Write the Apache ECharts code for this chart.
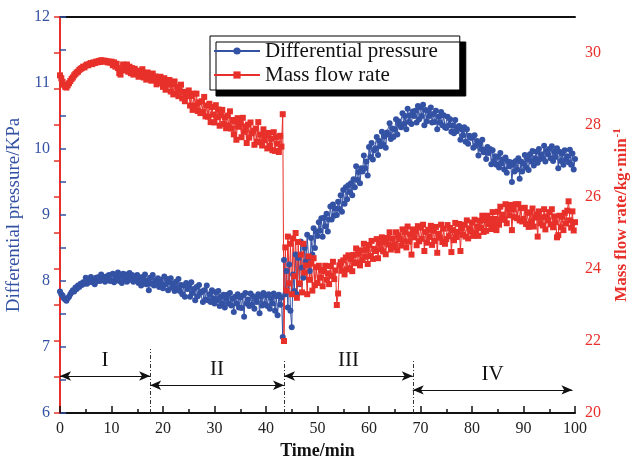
<!DOCTYPE html>
<html>
<head>
<meta charset="utf-8">
<script src="https://cdn.jsdelivr.net/npm/echarts@6/dist/echarts.min.js"></script>
<style>html,body{margin:0;padding:0;background:#fff;overflow:hidden}#c{width:633px;height:458px}</style>
</head>
<body>
<div id="c"></div>
<script>
// time axis: readings every 0.25 min from 0 to 100 min
const timeStep = 0.25;

// Differential pressure (KPa), left axis
const diffPressure = [
  7.84, 7.80, 7.78, 7.74, 7.72, 7.70, 7.74, 7.76, 7.80, 7.83, 7.86, 7.84, 7.90, 7.88, 7.93, 7.91, 7.96, 7.94, 7.98, 7.96,
  8.05, 7.96, 8.02, 7.99, 8.06, 7.98, 8.02, 7.95, 8.05, 8.00, 8.06, 8.00, 8.10, 8.02, 8.06, 7.99, 8.07, 8.03, 8.09, 8.00,
  8.01, 8.11, 7.98, 8.07, 8.03, 8.13, 8.00, 8.08, 7.97, 8.11, 8.03, 8.10, 7.99, 8.06, 8.12, 8.02, 8.09, 7.99, 8.06, 8.04,
  8.09, 7.97, 8.05, 7.93, 8.06, 8.00, 8.10, 7.95, 8.01, 7.86, 8.05, 7.96, 8.09, 7.93, 8.01, 7.95, 8.04, 7.91, 8.02, 7.95,
  7.89, 8.07, 7.95, 8.03, 7.86, 7.98, 8.04, 7.90, 7.96, 7.85, 7.99, 7.89, 8.03, 7.85, 7.94, 7.80, 7.93, 7.76, 7.97, 7.88,
  7.92, 7.76, 7.98, 7.82, 7.88, 7.71, 7.91, 7.77, 7.94, 7.82, 7.84, 7.68, 7.86, 7.72, 7.93, 7.71, 7.80, 7.68, 7.86, 7.74,
  7.66, 7.83, 7.71, 7.85, 7.62, 7.76, 7.66, 7.79, 7.60, 7.73, 7.79, 7.66, 7.82, 7.63, 7.73, 7.53, 7.76, 7.66, 7.80, 7.60,
  7.75, 7.59, 7.78, 7.46, 7.82, 7.66, 7.72, 7.62, 7.81, 7.64, 7.77, 7.58, 7.74, 7.68, 7.80, 7.51, 7.76, 7.63, 7.82, 7.65,
  7.78, 7.62, 7.80, 7.58, 7.74, 7.66, 7.81, 7.55, 7.77, 7.48, 7.79, 7.64, 7.75, 7.15, 8.32, 7.80, 8.15, 7.60, 8.25, 7.55,
  7.30, 8.10, 7.85, 8.40, 7.80, 8.35, 7.95, 8.60, 8.20, 8.05, 8.50, 8.30, 8.70, 8.35, 8.15, 8.65, 8.40, 8.80, 8.50, 8.75,
  8.68, 8.89, 8.76, 8.95, 8.67, 8.96, 8.83, 9.02, 8.75, 8.93, 9.13, 8.93, 9.16, 8.99, 9.10, 9.00, 9.20, 9.09, 9.30, 9.05,
  9.38, 9.17, 9.42, 9.24, 9.45, 9.35, 9.48, 9.30, 9.54, 9.42, 9.74, 9.53, 9.65, 9.48, 9.71, 9.66, 9.90, 9.71, 9.81, 9.60,
  10.03, 9.88, 10.09, 9.84, 9.98, 10.01, 10.18, 9.91, 10.12, 10.04, 10.26, 10.07, 10.19, 10.02, 10.25, 10.22, 10.39, 10.15, 10.31, 10.18,
  10.30, 10.45, 10.22, 10.42, 10.36, 10.33, 10.54, 10.38, 10.50, 10.30, 10.61, 10.41, 10.51, 10.38, 10.57, 10.50, 10.58, 10.40, 10.65, 10.45,
  10.63, 10.50, 10.67, 10.36, 10.59, 10.42, 10.58, 10.50, 10.63, 10.40, 10.53, 10.41, 10.58, 10.30, 10.49, 10.40, 10.56, 10.36, 10.51, 10.33,
  10.32, 10.49, 10.36, 10.45, 10.26, 10.36, 10.24, 10.44, 10.27, 10.33, 10.35, 10.14, 10.30, 10.21, 10.33, 10.11, 10.30, 10.08, 10.20, 10.17,
  10.17, 10.02, 10.21, 10.05, 10.12, 9.90, 10.08, 10.00, 10.14, 9.95, 9.99, 9.85, 10.03, 9.94, 10.00, 9.77, 9.98, 9.82, 9.89, 9.76,
  9.88, 9.72, 9.94, 9.78, 9.84, 9.69, 9.87, 9.64, 9.81, 9.74, 9.80, 9.50, 9.76, 9.66, 9.82, 9.69, 9.86, 9.55, 9.81, 9.66,
  9.78, 9.91, 9.72, 9.85, 9.68, 9.92, 9.81, 9.97, 9.75, 9.86, 9.96, 9.79, 10.00, 9.85, 9.92, 9.86, 10.05, 9.81, 9.97, 9.92,
  10.00, 9.86, 10.04, 9.82, 9.96, 9.88, 10.01, 9.71, 9.96, 9.82, 9.93, 9.76, 9.98, 9.84, 9.89, 9.80, 9.99, 9.76, 9.93, 9.69,
  9.85
];

// Mass flow rate (kg/min), right axis
const massFlow = [
  29.38, 29.30, 29.20, 29.12, 29.06, 29.04, 29.10, 29.16, 29.22, 29.28, 29.32, 29.38, 29.42, 29.46, 29.48, 29.53, 29.56, 29.58, 29.62, 29.60,
  29.65, 29.68, 29.66, 29.70, 29.72, 29.69, 29.74, 29.72, 29.76, 29.74, 29.78, 29.75, 29.80, 29.77, 29.79, 29.76, 29.78, 29.74, 29.76, 29.73,
  29.76, 29.66, 29.74, 29.62, 29.70, 29.58, 29.44, 29.40, 29.52, 29.68, 29.60, 29.52, 29.68, 29.48, 29.62, 29.44, 29.58, 29.40, 29.56, 29.42,
  29.51, 29.34, 29.46, 29.40, 29.55, 29.32, 29.39, 29.26, 29.46, 29.36, 29.36, 29.23, 29.43, 29.26, 29.35, 29.13, 29.30, 29.23, 29.34, 29.17,
  29.06, 29.30, 28.98, 29.22, 29.12, 29.25, 28.93, 29.13, 28.85, 29.21, 28.88, 29.06, 28.80, 28.96, 29.12, 28.74, 28.92, 28.66, 28.86, 28.80,
  28.96, 28.54, 28.81, 28.42, 28.87, 28.54, 28.87, 28.39, 28.63, 28.33, 28.66, 28.36, 28.78, 28.24, 28.54, 28.23, 28.59, 28.08, 28.50, 28.29,
  28.07, 28.55, 28.22, 28.43, 27.98, 28.27, 28.42, 28.03, 28.21, 27.91, 28.26, 27.99, 28.38, 27.90, 28.14, 27.74, 28.10, 27.59, 28.19, 27.95,
  28.05, 27.66, 28.20, 27.81, 27.96, 27.50, 28.01, 27.65, 28.07, 27.77, 27.84, 27.45, 27.90, 27.54, 28.08, 27.52, 27.73, 27.43, 27.88, 27.58,
  27.72, 27.35, 27.78, 27.42, 27.62, 27.30, 27.80, 27.28, 27.66, 27.48, 27.25, 27.70, 27.40, 28.30, 22.00, 24.60, 23.40, 24.90, 23.60, 24.70,
  23.30, 24.85, 23.80, 25.00, 23.20, 24.75, 23.60, 24.40, 23.35, 24.70, 23.90, 24.10, 23.30, 24.35, 23.70, 24.15, 23.40, 24.30, 23.55, 24.05,
  23.61, 24.09, 23.76, 23.97, 23.52, 23.94, 24.09, 23.70, 23.88, 23.58, 24.08, 23.81, 24.20, 23.72, 23.96, 23.00, 23.32, 24.10, 24.19, 23.95,
  24.24, 23.85, 24.32, 23.99, 24.38, 24.02, 24.28, 23.94, 24.39, 24.16, 24.57, 24.18, 24.42, 24.10, 24.52, 24.25, 24.70, 24.34, 24.53, 24.14,
  24.67, 24.36, 24.78, 24.28, 24.56, 24.50, 24.83, 24.30, 24.72, 24.55, 24.88, 24.49, 24.74, 24.41, 24.86, 24.68, 25.02, 24.54, 24.85, 24.60,
  24.69, 25.02, 24.52, 24.94, 24.83, 24.65, 25.10, 24.77, 25.02, 24.60, 25.18, 24.76, 24.96, 24.40, 25.10, 24.88, 25.05, 24.66, 25.19, 24.77,
  25.15, 24.84, 25.23, 24.50, 25.03, 24.73, 25.09, 24.89, 25.20, 24.67, 25.06, 24.78, 25.17, 24.45, 24.98, 24.87, 25.23, 24.75, 25.12, 24.70,
  24.83, 25.22, 24.91, 25.14, 24.47, 25.08, 24.80, 25.28, 24.89, 25.03, 25.25, 24.50, 25.14, 24.95, 25.23, 24.90, 25.35, 24.85, 25.13, 25.04,
  25.29, 24.92, 25.37, 25.01, 25.18, 24.92, 25.34, 25.14, 25.48, 25.03, 25.36, 25.06, 25.48, 25.25, 25.39, 25.11, 25.58, 25.22, 25.39, 25.08,
  25.59, 25.23, 25.73, 25.37, 25.51, 25.38, 25.80, 25.27, 25.66, 25.49, 25.78, 25.08, 25.66, 25.44, 25.80, 25.41, 25.80, 25.35, 25.69, 25.32,
  25.39, 25.70, 25.25, 25.56, 25.17, 25.57, 25.32, 25.68, 25.18, 25.43, 25.52, 24.90, 25.60, 25.27, 25.44, 25.21, 25.66, 25.10, 25.46, 25.35,
  25.58, 25.24, 25.66, 25.16, 25.46, 25.30, 24.88, 24.94, 25.48, 25.16, 25.45, 25.08, 25.56, 25.26, 25.62, 25.88, 25.35, 25.15, 25.60, 25.07,
  25.30
];

// stage annotations
const stageBounds = [0, 17.5, 43.5, 68.5, 99.5];
const stageNames = ['I', 'II', 'III', 'IV'];
const stageArrowY = [6.56, 6.42, 6.56, 6.35];
const dividerTimes = [17.5, 43.5, 68.5];
const dividerTops = [6.97, 6.8, 6.8];

const BLUE = '#3452a4';
const RED = '#e8302a';
const FONT = '"Liberation Serif", "Times New Roman", serif';

const pairs = arr => arr.map((v, i) => [i * timeStep, v]);

const markData = [];
dividerTimes.forEach((t, i) => {
  markData.push([
    { coord: [t, 6], symbol: 'none', lineStyle: { type: [4, 2, 1, 2], color: '#333', width: 1 }, label: { show: false } },
    { coord: [t, dividerTops[i]], symbol: 'none' }
  ]);
});
stageNames.forEach((n, i) => {
  markData.push([
    { coord: [stageBounds[i], stageArrowY[i]], symbol: 'arrow', symbolSize: [7, 11],
      lineStyle: { type: 'solid', color: '#111', width: 1 },
      label: { show: true, position: 'middle', formatter: n, fontFamily: FONT, fontSize: 21, color: '#111',
               backgroundColor: '#fff', padding: [0, 5] } },
    { coord: [stageBounds[i + 1], stageArrowY[i]], symbol: 'arrow', symbolSize: [7, 11] }
  ]);
});

const chart = echarts.init(document.getElementById('c'), null, { renderer: 'canvas' });
chart.setOption({
  animation: false,
  backgroundColor: '#fff',
  grid: { left: 60, right: 58, top: 17, bottom: 45, containLabel: false, outerBoundsMode: 'none' },
  legend: {
    left: 210, top: 36, orient: 'vertical',
    backgroundColor: '#fff', borderColor: '#000', borderWidth: 1,
    shadowColor: '#000', shadowBlur: 0, shadowOffsetX: 6, shadowOffsetY: 6,
    padding: [4, 22, 4, 3], itemGap: 2, itemWidth: 46, itemHeight: 9,
    textStyle: { fontFamily: FONT, fontSize: 21, lineHeight: 22, color: '#111' },
    data: ['Differential pressure', 'Mass flow rate']
  },
  xAxis: [{
    type: 'value', min: 0, max: 100, interval: 10,
    name: 'Time/min', nameLocation: 'middle', nameGap: 28,
    nameTextStyle: { fontFamily: FONT, fontSize: 18, fontWeight: 'bold', color: '#111' },
    axisLine: { lineStyle: { color: '#111', width: 2 } },
    axisTick: { inside: true, length: 7, lineStyle: { color: '#111', width: 1.5 } },
    minorTick: { show: true, splitNumber: 2, length: 4, lineStyle: { color: '#111', width: 1.5 } },
    axisLabel: { fontFamily: FONT, fontSize: 16, color: '#222', margin: 8 },
    splitLine: { show: false }
  }, {
    type: 'value', min: 0, max: 100, position: 'top',
    axisLine: { show: true, onZero: false, lineStyle: { color: '#111', width: 2 } },
    axisTick: { show: false }, axisLabel: { show: false }, splitLine: { show: false }
  }],
  yAxis: [{
    type: 'value', min: 6, max: 12, interval: 0.5, position: 'left',
    name: 'Differential pressure/KPa', nameLocation: 'middle', nameGap: 25,
    nameTextStyle: { fontFamily: FONT, fontSize: 19, color: BLUE },
    axisLine: { show: true, lineStyle: { color: BLUE, width: 2 } },
    axisTick: { inside: true, length: 6, lineStyle: { color: BLUE, width: 1.5 } },
    axisLabel: { fontFamily: FONT, fontSize: 16, color: BLUE, margin: 10,
                 formatter: v => (Math.abs(v - Math.round(v)) < 1e-6 ? String(Math.round(v)) : '') },
    splitLine: { show: false }
  }, {
    type: 'value', min: 20, max: 31, interval: 1, position: 'right',
    name: 'Mass flow rate/kg·min{sup|-1}', nameLocation: 'middle', nameGap: 34,
    nameTextStyle: { fontFamily: FONT, fontSize: 17, fontWeight: 'bold', color: RED,
      rich: { sup: { fontFamily: FONT, fontSize: 11, fontWeight: 'bold', color: RED, padding: [0, 0, 9, 1] } } },
    axisLine: { show: true, lineStyle: { color: RED, width: 2 } },
    axisTick: { inside: true, length: 6, lineStyle: { color: RED, width: 1.5 } },
    axisLabel: { fontFamily: FONT, fontSize: 16, color: RED, margin: 10,
                 formatter: v => (v % 2 === 0 && v <= 30 ? String(v) : '') },
    splitLine: { show: false }
  }],
  series: [{
    name: 'Differential pressure', type: 'line', xAxisIndex: 0, yAxisIndex: 0,
    data: pairs(diffPressure),
    symbol: 'circle', symbolSize: 6, showAllSymbol: true,
    itemStyle: { color: BLUE }, lineStyle: { color: BLUE, width: 1 },
    markLine: { silent: true, symbol: 'none', animation: false, data: markData }
  }, {
    name: 'Mass flow rate', type: 'line', xAxisIndex: 0, yAxisIndex: 1,
    data: pairs(massFlow),
    symbol: 'rect', symbolSize: 6, showAllSymbol: true,
    itemStyle: { color: RED }, lineStyle: { color: RED, width: 1 }
  }]
});
</script>
</body>
</html>
